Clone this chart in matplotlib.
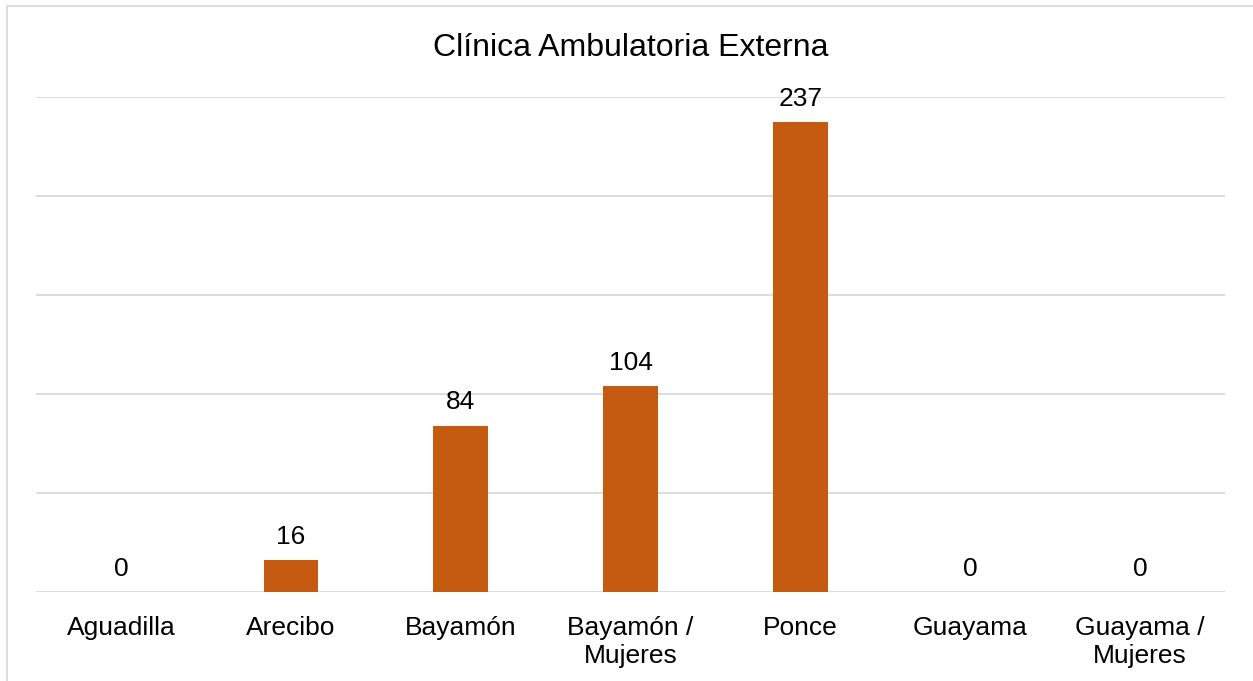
import matplotlib
matplotlib.use("Agg")
import matplotlib.pyplot as plt
from matplotlib.lines import Line2D

categories = ["Aguadilla", "Arecibo", "Bayamón", "Bayamón /\nMujeres", "Ponce", "Guayama", "Guayama /\nMujeres"]
values = [0, 16, 84, 104, 237, 0, 0]
title = "Clínica Ambulatoria Externa"

plt.rcParams['font.family'] = ['Liberation Sans', 'DejaVu Sans']

W, H = 1253, 681
fig = plt.figure(figsize=(W/100, H/100), dpi=100)
ax = fig.add_axes([36/W, 1-592/H, (1225-36)/W, (592-96.7)/H])

x = list(range(len(categories)))
bars = ax.bar(x, values, width=0.32, color="#C55A11", zorder=3)
ax.set_xlim(-0.5, len(categories)-0.5)
ax.set_ylim(0, 250)
ax.set_yticks([0, 50, 100, 150, 200, 250])
ax.yaxis.grid(True, color="#D9D9D9", linewidth=1.3, zorder=0)
ax.tick_params(axis='y', left=False, labelleft=False)
ax.tick_params(axis='x', bottom=False, pad=14, labelsize=19)
ax.set_xticks(x)
ax.set_xticklabels(categories, linespacing=1.18)
for s in ax.spines.values():
    s.set_visible(False)

for xi, v in zip(x, values):
    ax.annotate(str(v), (xi, v), xytext=(0, 8), textcoords="offset points",
                ha="center", va="bottom", fontsize=19)

fig.text(631/W, 1-48/H, title, ha="center", va="center", fontsize=23)

# chart area border (top and left visible)
fig.add_artist(Line2D([7/W, 1], [1-6/H, 1-6/H], color="#D9D9D9", linewidth=1.3, transform=fig.transFigure))
fig.add_artist(Line2D([7/W, 7/W], [0, 1-6/H], color="#D9D9D9", linewidth=1.3, transform=fig.transFigure))

fig.savefig("out.png", dpi=100, facecolor="white")
